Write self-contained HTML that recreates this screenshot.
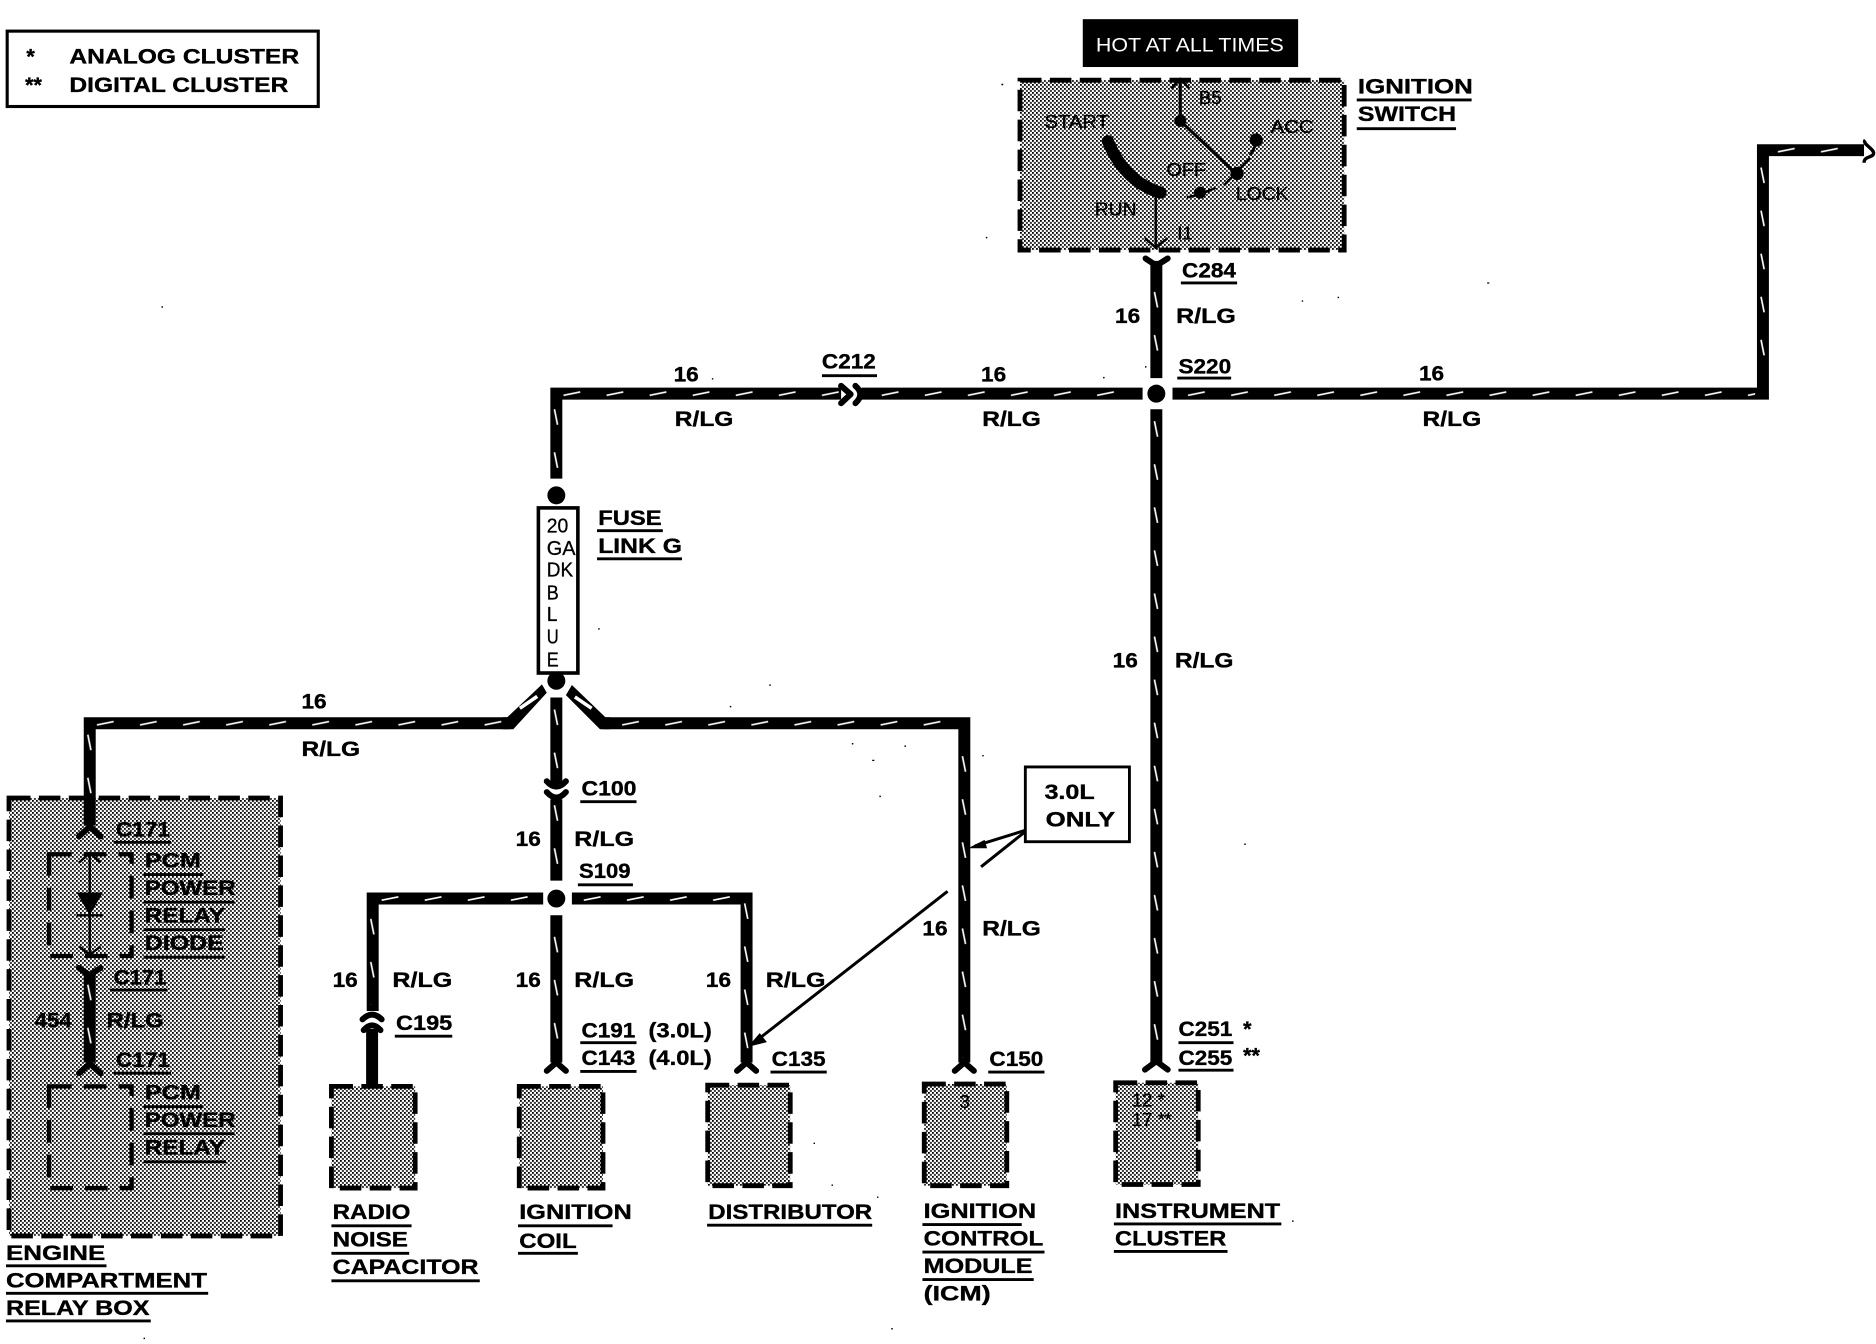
<!DOCTYPE html>
<html><head><meta charset="utf-8"><title>Wiring diagram</title>
<style>
html,body{margin:0;padding:0;background:#fff;width:1876px;height:1344px;overflow:hidden}
svg{display:block}
text{font-family:"Liberation Sans",sans-serif;font-weight:700;font-size:18px;fill:#000;stroke:#000;stroke-width:.3}
.r{font-weight:400;font-size:15.5px;stroke:#000;stroke-width:.3}
.f{font-weight:400;font-size:17px;stroke:#000;stroke-width:.25}
.h{font-weight:400;font-size:16px;fill:#fff;stroke:none}
.w{fill:none;stroke:#000;stroke-width:10;stroke-linejoin:miter}
.c{fill:none;stroke:#000;stroke-width:5;stroke-linecap:round;stroke-linejoin:round}
.t{fill:none;stroke:#000;stroke-width:2}
.d{fill:url(#st);stroke:#000;stroke-width:4;stroke-dasharray:18 7}
.n{fill:none;stroke:#000;stroke-width:3.6;stroke-dasharray:19 10}
</style></head><body>
<svg xmlns="http://www.w3.org/2000/svg" width="1876" height="1344" viewBox="0 0 1568 1123.3">
<defs>
<pattern id="st" patternUnits="userSpaceOnUse" width="4" height="4" patternTransform="scale(.835821)">
<rect width="4" height="4" fill="#fff"/><rect width="1.8" height="1.8" fill="#000"/><rect x="2" y="2" width="1.8" height="1.8" fill="#000"/>
</pattern>
<pattern id="ht" patternUnits="userSpaceOnUse" width="36" height="10">
<path d="M6 6.4L20 3.6" stroke="#fff" stroke-width="1.4" fill="none"/>
</pattern>
<pattern id="vt" patternUnits="userSpaceOnUse" width="10" height="36">
<path d="M3.4 8L6 21" stroke="#fff" stroke-width="1.4" fill="none"/>
</pattern>
</defs>
<rect width="1568" height="1123.3" fill="#fff"/>

<!-- specks -->
<path fill="#000" d="M643 572h1.2v1.2h-1.2zM610 590h1.2v1.2h-1.2zM712 621h1.2v1.2h-1.2zM729 635h1.8v1h-1.8zM735 665h1.2v1.2h-1.2zM756 623h1.2v1.2h-1.2zM821 631h1.2v1.2h-1.2zM837 70h1.5v1.2h-1.5zM824 198h1.2v1.2h-1.2zM1088 251h1.2v1.2h-1.2zM1118 248h1.2v1.2h-1.2zM1243 236h1.8v1h-1.8zM922 315h1.2v1.2h-1.2zM957 306h1.2v1.2h-1.2zM595 316h1.2v1.2h-1.2zM500 525h1.2v1.2h-1.2zM135 256h1.2v1.2h-1.2zM1040 705h1.2v1.2h-1.2zM680 955h1.2v1.2h-1.2zM733 1000h1.2v1.2h-1.2zM695 990h1.2v1.2h-1.2zM1080 1020h1.2v1.2h-1.2zM745 1110h1.2v1.2h-1.2zM120 1118h1.2v1.2h-1.2z"/>

<!-- legend -->
<rect x="6" y="26" width="260" height="63" fill="none" stroke="#000" stroke-width="2.6"/>
<text x="22" y="53">*</text><text x="21" y="77">**</text>
<text x="58" y="53" textLength="192" lengthAdjust="spacingAndGlyphs">ANALOG CLUSTER</text>
<text x="58" y="77" textLength="183" lengthAdjust="spacingAndGlyphs">DIGITAL CLUSTER</text>

<!-- hot -->
<rect x="905" y="16" width="180" height="40" fill="#000"/>
<text class="h" x="916" y="43" textLength="157" lengthAdjust="spacingAndGlyphs">HOT AT ALL TIMES</text>

<!-- boxes -->
<rect class="d" x="852.5" y="67" width="271" height="142"/>
<rect class="d" x="7.5" y="667" width="227" height="366"/>
<rect class="n" x="41" y="714" width="69" height="85"/>
<rect class="n" x="41" y="908" width="69" height="85"/>
<rect class="d" x="277" y="908" width="70" height="85"/>
<rect class="d" x="434" y="908" width="70" height="85"/>
<rect class="d" x="591.5" y="907" width="69" height="84"/>
<rect class="d" x="772.5" y="906" width="69" height="85"/>
<rect class="d" x="932.5" y="905" width="69" height="85"/>

<!-- switch -->
<g>
<path d="M986.5 66V101L1033 145" fill="none" stroke="#000" stroke-width="2.6"/>
<path d="M979 74L986.5 66L994 74" class="t"/>
<circle cx="986.5" cy="101" r="5"/><circle cx="1034" cy="145" r="5.5"/>
<path d="M1023 155L1045 132" class="t"/>
<circle cx="1050" cy="117" r="5.5"/><path d="M1050 120L1045 130" stroke="#000" stroke-width="2.4"/>
<circle cx="1003" cy="161" r="5"/><path d="M992 165Q1003 163 1016 157" class="t"/>
<path d="M926 118Q940 152 970 161" fill="none" stroke="#000" stroke-width="10" stroke-linecap="round"/>
<path d="M966 164V208" class="t"/>
<path d="M957 199L966 207L976 199" class="t"/>
<text class="r" x="873" y="107" textLength="54" lengthAdjust="spacingAndGlyphs">START</text>
<text class="r" x="1002" y="87" textLength="19" lengthAdjust="spacingAndGlyphs">B5</text>
<text class="r" x="1062" y="111" textLength="36" lengthAdjust="spacingAndGlyphs">ACC</text>
<text class="r" x="975" y="147" textLength="33" lengthAdjust="spacingAndGlyphs">OFF</text>
<text class="r" x="1033" y="167" textLength="44" lengthAdjust="spacingAndGlyphs">LOCK</text>
<text class="r" x="915" y="180" textLength="35" lengthAdjust="spacingAndGlyphs">RUN</text>
<text class="r" x="984" y="200">I1</text>
</g>

<!-- wires -->
<path class="w" d="M966.5 218V316"/>
<path class="c" d="M957.5 216L966.5 222L976 216"/>
<circle cx="966.5" cy="329" r="7.5"/>
<path class="w" d="M955 329H720M703 329H465V400"/>
<circle cx="465" cy="414" r="7.5"/>
<path class="c" d="M703 322.500L711 329.500L703 337M715 322.500Q723 329.500 715 337"/>
<path class="w" d="M980 329H1473.500V125.500H1558"/>
<path d="M1559 117C1556 120 1566 124 1566 128C1566 132 1558 130 1558 136" fill="none" stroke="#000" stroke-width="2.8"/>
<path class="w" d="M966.5 342V888"/>
<path class="c" d="M957 894L966.5 887L976 894"/>

<rect x="450" y="424.500" width="33" height="138" fill="#fff" stroke="#000" stroke-width="3"/>
<text class="f" x="457" y="445" textLength="18" lengthAdjust="spacingAndGlyphs">20</text>
<text class="f" x="457" y="464" textLength="24" lengthAdjust="spacingAndGlyphs">GA</text>
<text class="f" x="457" y="482" textLength="22" lengthAdjust="spacingAndGlyphs">DK</text>
<text class="f" x="457" y="501" textLength="10" lengthAdjust="spacingAndGlyphs">B</text>
<text class="f" x="457" y="519" textLength="9" lengthAdjust="spacingAndGlyphs">L</text>
<text class="f" x="457" y="538" textLength="10" lengthAdjust="spacingAndGlyphs">U</text>
<text class="f" x="457" y="557" textLength="10" lengthAdjust="spacingAndGlyphs">E</text>
<circle cx="465" cy="569" r="7.5"/>

<path class="w" d="M75 690V604.500H426"/>
<path d="M424 599.500L453 572L457 579L429 609.500H420V599.500Z"/>
<path d="M434.500 592L449 582" stroke="#fff" stroke-width="3" fill="none"/>
<path class="w" d="M504 604.500H806V888"/>
<path d="M478 572.500L506 599.500H510V609.500H501.500L473 581Z"/>
<path d="M480.500 582.500L494.500 592" stroke="#fff" stroke-width="3" fill="none"/>
<path class="w" d="M465 583V656"/>
<path class="c" d="M457 653Q465 662 473 653M457 662Q465 671 473 662"/>
<path class="w" d="M465 668V736"/>
<circle cx="465" cy="751" r="7.5"/>
<path class="w" d="M454 751H311.500V845"/>
<path class="c" d="M303 852Q311 844 319 852M304 861Q311 853 318 861" stroke-width="4"/>
<path class="w" d="M311 860V907" stroke-width="11"/>
<path class="w" d="M478 751H624V888"/>
<path class="w" d="M465 765V888"/>
<path class="c" d="M457 895L465 888L473 895"/>
<path class="c" d="M616 895L624 888L632 895"/>
<path class="c" d="M798 895L806 888L814 895"/>

<!-- relay box internals -->
<path class="c" d="M66 699L75 691L84 699"/>
<path d="M75 713V798" class="t"/>
<path class="t" d="M66 721L75 713L84 721M66 791L75 798L84 791M64 765H86"/>
<path d="M64 746H86L75 765Z"/>
<path class="w" d="M75 814V888"/>
<path class="c" d="M66 809L75 815L84 809M66 897L75 889L84 897"/>

<!-- ticks -->
<g>
<rect transform="translate(465,324)" width="238" height="10" fill="url(#ht)"/>
<rect transform="translate(731,324)" width="220" height="10" fill="url(#ht)"/>
<rect transform="translate(987,324)" width="480" height="10" fill="url(#ht)"/>
<rect transform="translate(1480,120.500)" width="76" height="10" fill="url(#ht)"/>
<rect transform="translate(75,599.500)" width="350" height="10" fill="url(#ht)"/>
<rect transform="translate(514,599.500)" width="287" height="10" fill="url(#ht)"/>
<rect transform="translate(313,746)" width="140" height="10" fill="url(#ht)"/>
<rect transform="translate(482,746)" width="138" height="10" fill="url(#ht)"/>
<rect transform="translate(961.500,236)" width="10" height="76" fill="url(#vt)"/>
<rect transform="translate(961.500,344)" width="10" height="540" fill="url(#vt)"/>
<rect transform="translate(1468.500,132)" width="10" height="185" fill="url(#vt)"/>
<rect transform="translate(460,334)" width="10" height="60" fill="url(#vt)"/>
<rect transform="translate(460,585)" width="10" height="65" fill="url(#vt)"/>
<rect transform="translate(460,665)" width="10" height="68" fill="url(#vt)"/>
<rect transform="translate(460,775)" width="10" height="108" fill="url(#vt)"/>
<rect transform="translate(306.500,760)" width="10" height="80" fill="url(#vt)"/>
<rect transform="translate(619,747)" width="10" height="135" fill="url(#vt)"/>
<rect transform="translate(801,624)" width="10" height="260" fill="url(#vt)"/>
<rect transform="translate(70,606)" width="10" height="70" fill="url(#vt)"/>
<rect transform="translate(70,815)" width="10" height="70" fill="url(#vt)"/>
</g>

<!-- note -->
<rect x="857" y="641" width="87" height="62.500" fill="#fff" stroke="#000" stroke-width="2.4"/>
<text x="873" y="668" textLength="42" lengthAdjust="spacingAndGlyphs">3.0L</text>
<text x="874" y="691" textLength="58" lengthAdjust="spacingAndGlyphs">ONLY</text>
<path d="M857 694L815 707M857 695L820 724.500M792 745L632 870" fill="none" stroke="#000" stroke-width="2.5"/>
<path d="M809 709L823 702L825 709Z"/>
<path d="M625 875L635 863.500L641 871Z"/>

<!-- underlines -->
<path fill="none" stroke="#000" stroke-width="2.4" d="M1134 83.500h96M1134 107.500h83M987 236.500h47M984 316h45M687 314h46M499 443.500h55M499 467h71M485 670h47M483 739.500h46M330 866h48M485 871.500h47M485 895.500h47M644 896h47M826 896h47M985 871.500h46M985 894.500h46M95 704h48M120 731h50M120 754h76M120 777h68M120 800h68M92 827.500h48M95 897h48M120 925h50M120 947.500h76M120 971h69M5 1058h84M5 1081h169M5 1104h121M277 1024.500h67M277 1047.500h65M277 1070.500h124M433 1024.500h79M433 1047.500h50M591 1024h138M771 1023.500h83M771 1046.500h102M771 1069.500h93M931 1023h140M931 1046h95"/>

<!-- labels -->
<g>
<text x="1135" y="78" textLength="96" lengthAdjust="spacingAndGlyphs">IGNITION</text>
<text x="1135" y="101" textLength="82" lengthAdjust="spacingAndGlyphs">SWITCH</text>
<text x="988" y="232" textLength="45" lengthAdjust="spacingAndGlyphs">C284</text>
<text x="932" y="270" textLength="21" lengthAdjust="spacingAndGlyphs">16</text>
<text x="983" y="270" textLength="50" lengthAdjust="spacingAndGlyphs">R/LG</text>
<text x="985" y="312" textLength="44" lengthAdjust="spacingAndGlyphs">S220</text>
<text x="563" y="319" textLength="21" lengthAdjust="spacingAndGlyphs">16</text>
<text x="564" y="356" textLength="49" lengthAdjust="spacingAndGlyphs">R/LG</text>
<text x="687" y="308" textLength="45" lengthAdjust="spacingAndGlyphs">C212</text>
<text x="820" y="319" textLength="21" lengthAdjust="spacingAndGlyphs">16</text>
<text x="821" y="356" textLength="49" lengthAdjust="spacingAndGlyphs">R/LG</text>
<text x="1186" y="318" textLength="21" lengthAdjust="spacingAndGlyphs">16</text>
<text x="1189" y="356" textLength="49" lengthAdjust="spacingAndGlyphs">R/LG</text>
<text x="500" y="439" textLength="53" lengthAdjust="spacingAndGlyphs">FUSE</text>
<text x="500" y="462" textLength="70" lengthAdjust="spacingAndGlyphs">LINK G</text>
<text x="930" y="558" textLength="21" lengthAdjust="spacingAndGlyphs">16</text>
<text x="982" y="558" textLength="49" lengthAdjust="spacingAndGlyphs">R/LG</text>
<text x="252" y="592" textLength="21" lengthAdjust="spacingAndGlyphs">16</text>
<text x="252" y="632" textLength="49" lengthAdjust="spacingAndGlyphs">R/LG</text>
<text x="486" y="665" textLength="46" lengthAdjust="spacingAndGlyphs">C100</text>
<text x="431" y="707" textLength="21" lengthAdjust="spacingAndGlyphs">16</text>
<text x="480" y="707" textLength="50" lengthAdjust="spacingAndGlyphs">R/LG</text>
<text x="484" y="734" textLength="43" lengthAdjust="spacingAndGlyphs">S109</text>
<text x="278" y="825" textLength="21" lengthAdjust="spacingAndGlyphs">16</text>
<text x="328" y="825" textLength="50" lengthAdjust="spacingAndGlyphs">R/LG</text>
<text x="331" y="861" textLength="47" lengthAdjust="spacingAndGlyphs">C195</text>
<text x="431" y="825" textLength="21" lengthAdjust="spacingAndGlyphs">16</text>
<text x="480" y="825" textLength="50" lengthAdjust="spacingAndGlyphs">R/LG</text>
<text x="590" y="825" textLength="21" lengthAdjust="spacingAndGlyphs">16</text>
<text x="640" y="825" textLength="50" lengthAdjust="spacingAndGlyphs">R/LG</text>
<text x="771" y="782" textLength="21" lengthAdjust="spacingAndGlyphs">16</text>
<text x="821" y="782" textLength="49" lengthAdjust="spacingAndGlyphs">R/LG</text>
<text x="486" y="867" textLength="45" lengthAdjust="spacingAndGlyphs">C191</text>
<text x="542" y="867" textLength="53" lengthAdjust="spacingAndGlyphs">(3.0L)</text>
<text x="486" y="890" textLength="45" lengthAdjust="spacingAndGlyphs">C143</text>
<text x="542" y="890" textLength="53" lengthAdjust="spacingAndGlyphs">(4.0L)</text>
<text x="645" y="891" textLength="45" lengthAdjust="spacingAndGlyphs">C135</text>
<text x="827" y="891" textLength="45" lengthAdjust="spacingAndGlyphs">C150</text>
<text x="985" y="866" textLength="45" lengthAdjust="spacingAndGlyphs">C251</text>
<text x="1039" y="866">*</text>
<text x="985" y="890" textLength="45" lengthAdjust="spacingAndGlyphs">C255</text>
<text x="1039" y="888">**</text>
<text class="r" x="802" y="926">3</text>
<text class="r" x="946" y="925">12 *</text>
<text class="r" x="946" y="941">17 **</text>

<text x="97" y="699" textLength="45" lengthAdjust="spacingAndGlyphs">C171</text>
<text x="121" y="725" textLength="47" lengthAdjust="spacingAndGlyphs">PCM</text>
<text x="121" y="748" textLength="76" lengthAdjust="spacingAndGlyphs">POWER</text>
<text x="121" y="771" textLength="67" lengthAdjust="spacingAndGlyphs">RELAY</text>
<text x="121" y="794" textLength="66" lengthAdjust="spacingAndGlyphs">DIODE</text>
<text x="95" y="823" textLength="44" lengthAdjust="spacingAndGlyphs">C171</text>
<text x="29" y="859" textLength="31" lengthAdjust="spacingAndGlyphs">454</text>
<text x="89" y="859" textLength="48" lengthAdjust="spacingAndGlyphs">R/LG</text>
<text x="97" y="892" textLength="45" lengthAdjust="spacingAndGlyphs">C171</text>
<text x="121" y="919" textLength="47" lengthAdjust="spacingAndGlyphs">PCM</text>
<text x="121" y="942" textLength="76" lengthAdjust="spacingAndGlyphs">POWER</text>
<text x="121" y="965" textLength="67" lengthAdjust="spacingAndGlyphs">RELAY</text>

<text x="5" y="1053" textLength="83" lengthAdjust="spacingAndGlyphs">ENGINE</text>
<text x="5" y="1076" textLength="168" lengthAdjust="spacingAndGlyphs">COMPARTMENT</text>
<text x="5" y="1099" textLength="120" lengthAdjust="spacingAndGlyphs">RELAY BOX</text>
<text x="278" y="1019" textLength="65" lengthAdjust="spacingAndGlyphs">RADIO</text>
<text x="278" y="1042" textLength="63" lengthAdjust="spacingAndGlyphs">NOISE</text>
<text x="278" y="1065" textLength="122" lengthAdjust="spacingAndGlyphs">CAPACITOR</text>
<text x="434" y="1019" textLength="94" lengthAdjust="spacingAndGlyphs">IGNITION</text>
<text x="434" y="1043" textLength="48" lengthAdjust="spacingAndGlyphs">COIL</text>
<text x="592" y="1019" textLength="137" lengthAdjust="spacingAndGlyphs">DISTRIBUTOR</text>
<text x="772" y="1018" textLength="94" lengthAdjust="spacingAndGlyphs">IGNITION</text>
<text x="772" y="1041" textLength="100" lengthAdjust="spacingAndGlyphs">CONTROL</text>
<text x="772" y="1064" textLength="91" lengthAdjust="spacingAndGlyphs">MODULE</text>
<text x="772" y="1087" textLength="56" lengthAdjust="spacingAndGlyphs">(ICM)</text>
<text x="932" y="1018" textLength="138" lengthAdjust="spacingAndGlyphs">INSTRUMENT</text>
<text x="932" y="1041" textLength="93" lengthAdjust="spacingAndGlyphs">CLUSTER</text>
</g>
</svg>
</body></html>
